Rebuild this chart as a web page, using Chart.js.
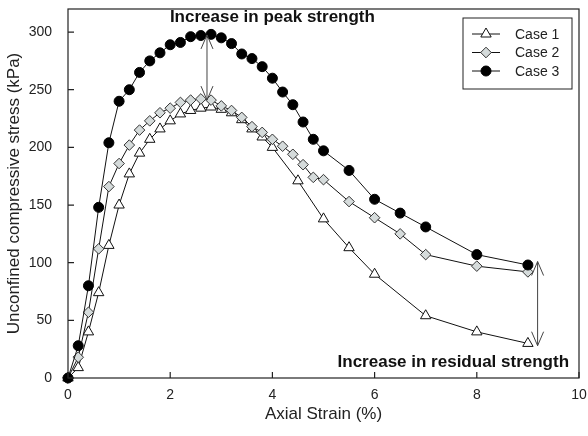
<!DOCTYPE html>
<html>
<head>
<meta charset="utf-8">
<script src="https://cdn.jsdelivr.net/npm/chart.js@4.4.1/dist/chart.umd.min.js"></script>
<style>
  html, body { margin: 0; padding: 0; background: #fff; }
  #wrap { width: 588px; height: 436px; }
</style>
</head>
<body>
<div id="wrap"><canvas id="stressChart" width="588" height="436"></canvas></div>
<script>
// Case 1 has fewer readings after 4 % strain
const strainCase1 = [0, 0.2, 0.4, 0.6, 0.8, 1.0, 1.2, 1.4, 1.6, 1.8, 2.0, 2.2, 2.4, 2.6, 2.8, 3.0, 3.2, 3.4, 3.6, 3.8, 4.0, 4.5, 5.0, 5.5, 6.0, 7.0, 8.0, 9.0];
const stressCase1 = [0, 9, 40, 74, 115, 150, 177, 195, 207, 216, 223, 229, 232, 234, 235, 233, 230, 224, 216, 209, 200, 171, 138, 113, 90, 54, 40, 30];

const strainCase23 = [0, 0.2, 0.4, 0.6, 0.8, 1.0, 1.2, 1.4, 1.6, 1.8, 2.0, 2.2, 2.4, 2.6, 2.8, 3.0, 3.2, 3.4, 3.6, 3.8, 4.0, 4.2, 4.4, 4.6, 4.8, 5.0, 5.5, 6.0, 6.5, 7.0, 8.0, 9.0];
const stressCase2 = [0, 18, 57, 112, 166, 186, 202, 215, 223, 230, 234, 239, 241, 242, 241, 236, 232, 226, 218, 213, 207, 201, 194, 185, 174, 172, 153, 139, 125, 107, 97, 92];
const stressCase3 = [0, 28, 80, 148, 204, 240, 250, 265, 275, 282, 289, 291, 296, 297, 298, 295, 290, 281, 277, 270, 260, 248, 237, 222, 207, 197, 180, 155, 143, 131, 107, 98];

const caseNames = ['Case 1', 'Case 2', 'Case 3'];
const xTicks = [0, 2, 4, 6, 8, 10];
const yTicks = [0, 50, 100, 150, 200, 250, 300];

const FONT = '"Liberation Sans", Arial, sans-serif';

function pairs(xs, ys) {
    return xs.map((x, i) => ({ x: x, y: ys[i] }));
}

// box around plot + inward tick marks
const framePlugin = {
    id: 'frame',
    afterDraw(chart) {
        const { ctx, chartArea: a, scales } = chart;
        ctx.save();
        ctx.strokeStyle = '#222';
        ctx.lineWidth = 1.2;
        ctx.strokeRect(a.left, a.top, a.right - a.left, a.bottom - a.top);
        ctx.beginPath();
        xTicks.forEach(v => {
            const px = scales.x.getPixelForValue(v);
            ctx.moveTo(px, a.bottom);
            ctx.lineTo(px, a.bottom - 6);
        });
        yTicks.forEach(v => {
            const py = scales.y.getPixelForValue(v);
            ctx.moveTo(a.left, py);
            ctx.lineTo(a.left + 6, py);
        });
        ctx.stroke();
        ctx.restore();
    }
};

function arrowHead(ctx, x, y, dir) {
    ctx.moveTo(x - 6, y + dir * 14);
    ctx.lineTo(x, y);
    ctx.lineTo(x + 6, y + dir * 14);
}

const notesPlugin = {
    id: 'notes',
    afterDatasetsDraw(chart) {
        const { ctx, scales } = chart;
        const arrows = [
            { x: 2.72, top: 297.5, bottom: 241 },
            { x: 9.19, top: 101, bottom: 28 }
        ];
        ctx.save();
        ctx.strokeStyle = '#444';
        ctx.lineWidth = 1;
        arrows.forEach(ar => {
            const px = scales.x.getPixelForValue(ar.x);
            const y1 = scales.y.getPixelForValue(ar.top);
            const y2 = scales.y.getPixelForValue(ar.bottom);
            ctx.beginPath();
            ctx.moveTo(px, y1);
            ctx.lineTo(px, y2);
            arrowHead(ctx, px, y1, 1);
            arrowHead(ctx, px, y2, -1);
            ctx.stroke();
        });
        ctx.fillStyle = '#111';
        ctx.font = 'bold 17px ' + FONT;
        ctx.textAlign = 'center';
        ctx.textBaseline = 'middle';
        ctx.fillText('Increase in peak strength', scales.x.getPixelForValue(4.0), scales.y.getPixelForValue(313));
        ctx.fillText('Increase in residual strength', scales.x.getPixelForValue(7.54), scales.y.getPixelForValue(14));
        ctx.restore();
    }
};

// legend box in the top right corner
const legendPlugin = {
    id: 'boxLegend',
    afterDraw(chart) {
        const { ctx, chartArea: a } = chart;
        const bx = a.right - 116, by = a.top + 9, bw = 109, bh = 71;
        ctx.save();
        ctx.fillStyle = '#fff';
        ctx.fillRect(bx, by, bw, bh);
        ctx.strokeStyle = '#222';
        ctx.lineWidth = 1;
        ctx.strokeRect(bx, by, bw, bh);
        chart.data.datasets.forEach((ds, i) => {
            const y = by + 16 + i * 18.5;
            ctx.beginPath();
            ctx.strokeStyle = '#111';
            ctx.moveTo(bx + 9, y);
            ctx.lineTo(bx + 37, y);
            ctx.stroke();
            ctx.fillStyle = ds.pointBackgroundColor;
            ctx.strokeStyle = ds.pointBorderColor;
            ctx.lineWidth = ds.pointBorderWidth;
            Chart.helpers.drawPoint(ctx, { pointStyle: ds.pointStyle, radius: ds.pointRadius, rotation: 0, borderWidth: ds.pointBorderWidth }, bx + 23, y);
            ctx.fillStyle = '#222';
            ctx.font = '14px ' + FONT;
            ctx.textAlign = 'left';
            ctx.textBaseline = 'middle';
            ctx.fillText(ds.label, bx + 52, y + 1);
        });
        ctx.restore();
    }
};

const config = {
    type: 'line',
    data: {
        datasets: [{
            label: caseNames[0],
            data: pairs(strainCase1, stressCase1),
            borderColor: '#111',
            borderWidth: 1,
            pointStyle: 'triangle',
            pointRadius: 6,
            pointBackgroundColor: '#fff',
            pointBorderColor: '#111',
            pointBorderWidth: 1,
            order: 2
        }, {
            label: caseNames[1],
            data: pairs(strainCase23, stressCase2),
            borderColor: '#111',
            borderWidth: 1,
            pointStyle: 'rectRot',
            pointRadius: 5.3,
            pointBackgroundColor: '#d5dbdb',
            pointBorderColor: '#333',
            pointBorderWidth: 1,
            order: 1
        }, {
            label: caseNames[2],
            data: pairs(strainCase23, stressCase3),
            borderColor: '#111',
            borderWidth: 1,
            pointStyle: 'circle',
            pointRadius: 5,
            pointBackgroundColor: '#000',
            pointBorderColor: '#000',
            pointBorderWidth: 1,
            order: 0
        }]
    },
    options: {
        responsive: false,
        animation: false,
        clip: false,
        layout: { padding: { top: 9, right: 9, left: 0, bottom: 0 } },
        plugins: {
            legend: { display: false },
            tooltip: { enabled: false }
        },
        scales: {
            x: {
                type: 'linear',
                min: 0,
                max: 10,
                grid: { display: false },
                border: { display: false },
                ticks: { stepSize: 2, padding: 1, color: '#222', font: { family: FONT, size: 14 } },
                title: { display: true, text: 'Axial Strain (%)', color: '#222', font: { family: FONT, size: 17 }, padding: { top: 0, bottom: 11 } },
                afterFit(s) { s.height = 58; s.paddingLeft = 0; s.paddingRight = 0; }
            },
            y: {
                type: 'linear',
                min: 0,
                max: 320,
                grid: { display: false },
                border: { display: false },
                ticks: { stepSize: 50, padding: 8, color: '#222', font: { family: FONT, size: 14 } },
                afterBuildTicks(s) { s.ticks = s.ticks.filter(t => t.value <= 300); },
                title: { display: true, text: 'Unconfined compressive stress (kPa)', color: '#222', font: { family: FONT, size: 17 }, padding: { top: 4, bottom: 0 } },
                afterFit(s) { s.width = 68; s.paddingTop = 0; s.paddingBottom = 0; }
            }
        }
    },
    plugins: [framePlugin, notesPlugin, legendPlugin]
};

const ctx = document.getElementById('stressChart').getContext('2d');
const stressChart = new Chart(ctx, config);
</script>
</body>
</html>
